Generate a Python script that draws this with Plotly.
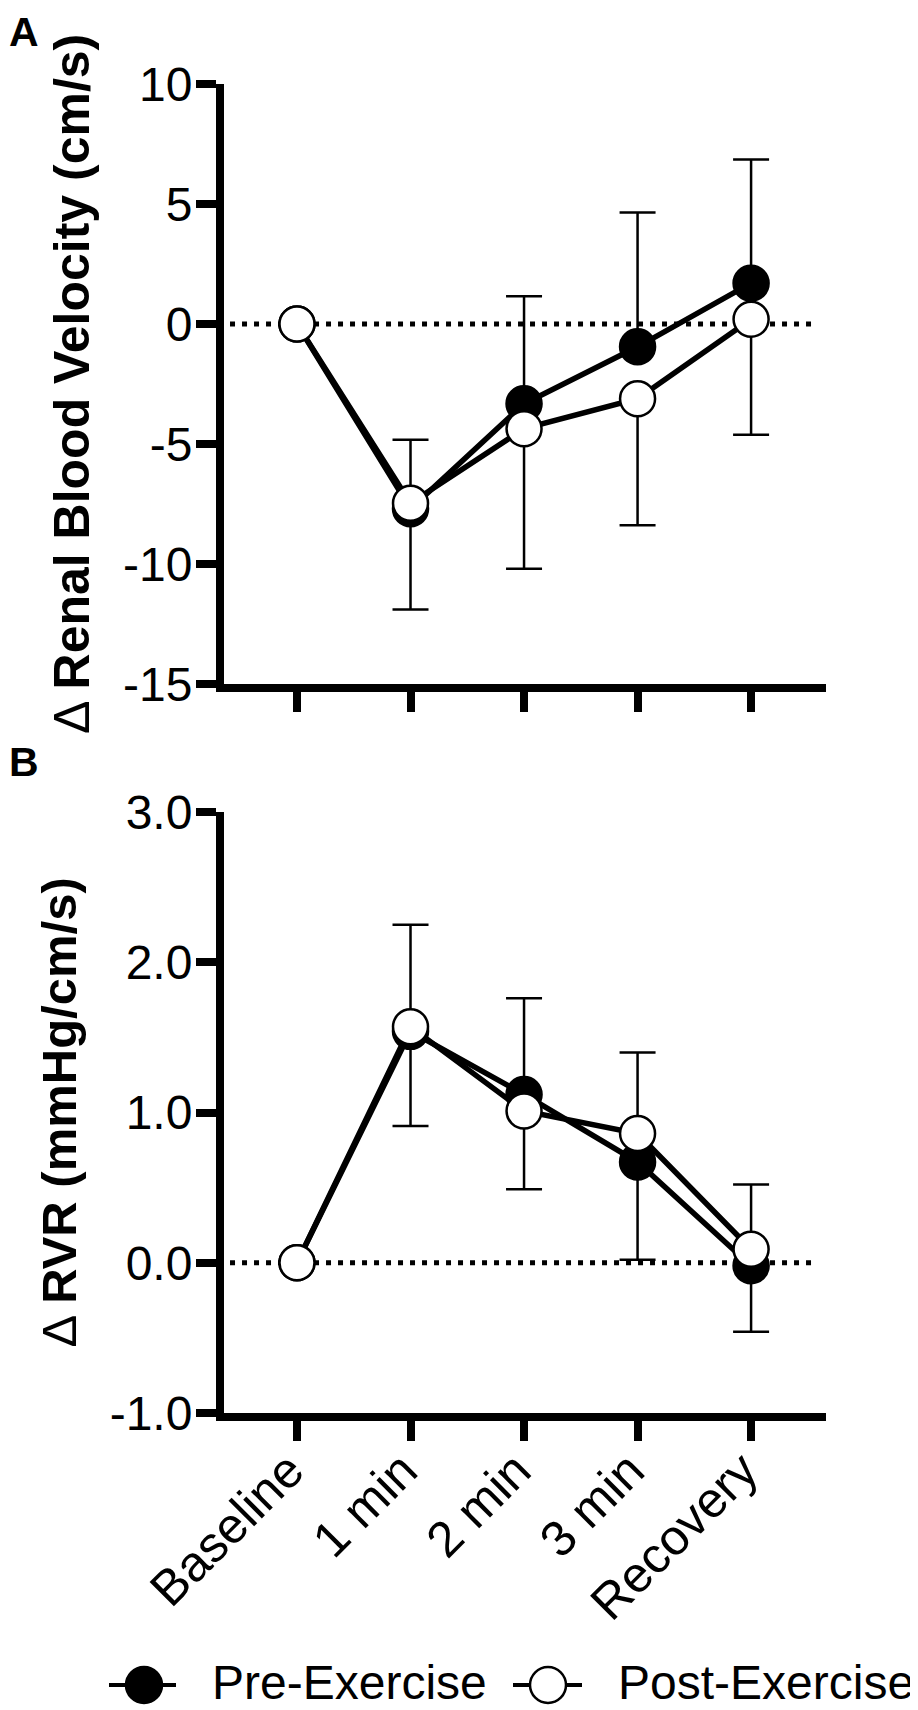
import plotly.graph_objects as go

# ---------------- data ----------------
categories = ["Baseline", "1 min", "2 min", "3 min", "Recovery"]
xpos = [0, 1, 2, 3, 4]

# Panel A: change in renal blood velocity (cm/s)
rbv_pre = [0.0, -7.7, -3.32, -0.95, 1.70]
rbv_pre_err_up = [0.0, 2.88, 4.48, 5.60, 5.15]
rbv_post = [0.0, -7.47, -4.36, -3.11, 0.20]
rbv_post_err_down = [0.0, 4.43, 5.84, 5.28, 4.81]

# Panel B: change in renal vascular resistance (mmHg/cm/s)
rvr_pre = [0.0, 1.54, 1.12, 0.67, -0.02]
rvr_pre_err_up = [0.0, 0.71, 0.64, 0.73, 0.54]
rvr_post = [0.0, 1.57, 1.01, 0.86, 0.09]
rvr_post_err_down = [0.0, 0.66, 0.52, 0.84, 0.55]

a_ticks = [-15, -10, -5, 0, 5, 10]
a_ticktext = ["-15", "-10", "-5", "0", "5", "10"]
b_ticks = [-1.0, 0.0, 1.0, 2.0, 3.0]
b_ticktext = ["-1.0", "0.0", "1.0", "2.0", "3.0"]

series_names = ["Pre-Exercise", "Post-Exercise"]

# ---------------- styling ----------------
FONT = "Liberation Sans, Arial, Helvetica, sans-serif"
MS = 35
MLW = 2.5
LW = 5.5
EW = 2.5
CAP = 18

fig = go.Figure()


def add_pair(pre, pre_up, post, post_down, xa, ya):
    zeros = [0] * len(pre)
    fig.add_trace(go.Scatter(
        x=xpos, y=pre, xaxis=xa, yaxis=ya, mode="lines+markers",
        name=series_names[0], showlegend=False, cliponaxis=False,
        line=dict(color="black", width=LW),
        marker=dict(size=MS, color="black", line=dict(color="black", width=MLW)),
        error_y=dict(type="data", symmetric=False, array=pre_up, arrayminus=zeros,
                     color="black", thickness=EW, width=CAP),
    ))
    fig.add_trace(go.Scatter(
        x=xpos, y=post, xaxis=xa, yaxis=ya, mode="lines+markers",
        name=series_names[1], showlegend=False, cliponaxis=False,
        line=dict(color="black", width=LW),
        marker=dict(size=MS, color="white", line=dict(color="black", width=MLW)),
        error_y=dict(type="data", symmetric=False, array=zeros, arrayminus=post_down,
                     color="black", thickness=EW, width=CAP),
    ))


add_pair(rbv_pre, rbv_pre_err_up, rbv_post, rbv_post_err_down, "x", "y")
add_pair(rvr_pre, rvr_pre_err_up, rvr_post, rvr_post_err_down, "x2", "y2")

# ---------------- layout geometry ----------------
OFF = 8  # page body margin
W, H = 918, 1710
L, T = 216, 76
plot_right = 818
plot_bottom = 1405
R, B = W - plot_right, H - plot_bottom
plot_w = W - L - R
plot_h = H - T - B
a_bottom = 676
b_top = 804


def fy(p):
    """figure pixel -> paper y"""
    return 1 - (p - T) / plot_h


def sx(p):
    """screen pixel -> paper x"""
    return (p - OFF - L) / plot_w


def sy(p):
    """screen pixel -> paper y"""
    return fy(p - OFF)


xrange_ = [-0.643, 4.66]
axis_common = dict(
    showline=True, linewidth=8, linecolor="black", ticks="outside",
    ticklen=20, tickwidth=8, tickcolor="black", showgrid=False, zeroline=False,
)

fig.update_layout(
    width=W, height=H,
    margin=dict(l=L, r=R, t=T, b=B, pad=0),
    plot_bgcolor="white", paper_bgcolor="white",
    font=dict(family=FONT, color="black"),
    showlegend=False,
    xaxis=dict(domain=[0, 1], anchor="y", range=xrange_, tickvals=xpos,
               showticklabels=False, **axis_common),
    yaxis=dict(domain=[fy(a_bottom), 1], anchor="x", range=[-15, 10],
               tickvals=a_ticks, ticktext=a_ticktext, ticklabelstandoff=-6,
               tickfont=dict(size=48, family=FONT), **axis_common),
    xaxis2=dict(domain=[0, 1], anchor="y2", range=xrange_, tickvals=xpos,
                ticktext=categories, tickangle=-45, ticklabelstandoff=-20,
                ticklabelshift=-8,
                tickfont=dict(size=50, family=FONT), **axis_common),
    yaxis2=dict(domain=[0, fy(b_top)], anchor="x2", range=[-1.0, 3.0],
                tickvals=b_ticks, ticktext=b_ticktext, ticklabelstandoff=-6,
                tickfont=dict(size=48, family=FONT), **axis_common),
)

# dotted zero reference lines
for xr, yr in (("x domain", "y"), ("x2 domain", "y2")):
    fig.add_shape(type="line", xref=xr, yref=yr, x0=0.01, x1=0.978, y0=0, y1=0,
                  layer="below", line=dict(color="black", width=5, dash="5px,7px"))

# axis titles
fig.add_annotation(text="Δ <b>Renal Blood Velocity (cm/s)</b>", textangle=-90,
                   xref="paper", yref="paper", x=sx(72), y=(fy(a_bottom) + 1) / 2,
                   xanchor="center", yanchor="middle", showarrow=False,
                   font=dict(size=50, family=FONT))
fig.add_annotation(text="Δ <b>RVR (mmHg/cm/s)</b>", textangle=-90,
                   xref="paper", yref="paper", x=sx(58), y=fy(b_top) / 2,
                   xanchor="center", yanchor="middle", showarrow=False,
                   font=dict(size=49, family=FONT))

# panel letters
fig.add_annotation(text="<b>A</b>", xref="paper", yref="paper", x=sx(8), y=1 + T / plot_h,
                   xanchor="left", yanchor="top", showarrow=False, borderpad=0,
                   font=dict(size=41, family=FONT))
fig.add_annotation(text="<b>B</b>", xref="paper", yref="paper", x=sx(8), y=sy(762),
                   xanchor="left", yanchor="middle", showarrow=False, borderpad=0,
                   font=dict(size=41, family=FONT))

# custom legend
leg_y = sy(1685)
legend_items = [
    (series_names[0], "black", 109, 176, 144, 210),
    (series_names[1], "white", 513, 582, 548, 616),
]
for name, fillc, lx0, lx1, cx, tx in legend_items:
    fig.add_shape(type="line", xref="paper", yref="paper", x0=sx(lx0), x1=sx(lx1),
                  y0=leg_y, y1=leg_y, line=dict(color="black", width=4))
    fig.add_shape(type="circle", xref="paper", yref="paper",
                  xsizemode="pixel", ysizemode="pixel",
                  xanchor=sx(cx), yanchor=leg_y, x0=-18, x1=18, y0=-18, y1=18,
                  fillcolor=fillc, line=dict(color="black", width=2.5))
    fig.add_annotation(text=name, xref="paper", yref="paper", x=sx(tx), y=sy(1682),
                       xanchor="left", yanchor="middle", showarrow=False,
                       font=dict(size=48, family=FONT))

fig.write_html("out.html")
